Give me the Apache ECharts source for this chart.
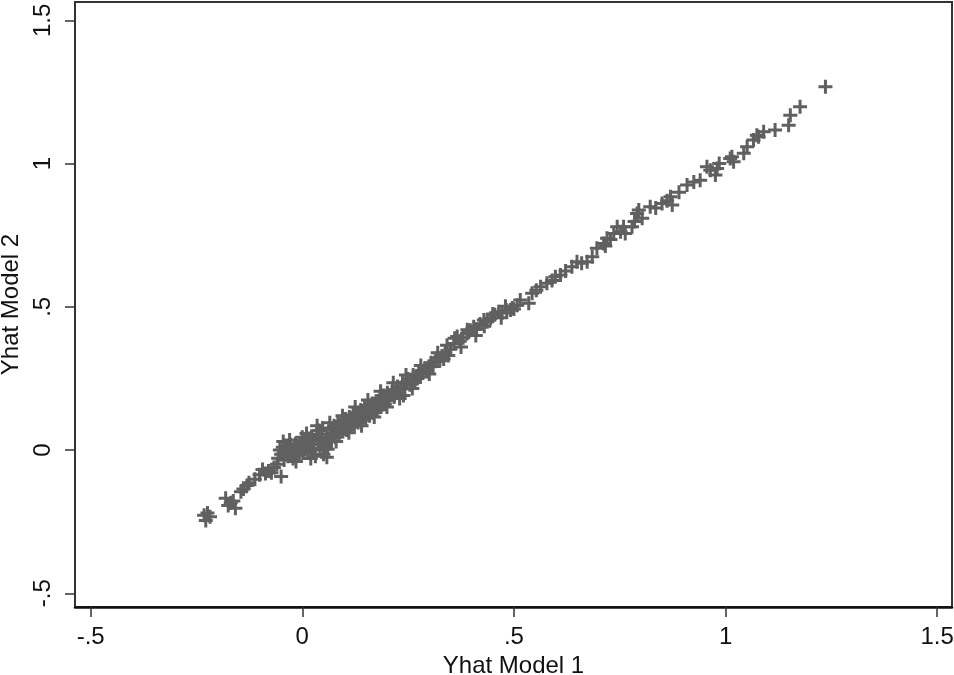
<!DOCTYPE html>
<html>
<head>
<meta charset="utf-8">
<script src="https://cdn.jsdelivr.net/npm/echarts@6/dist/echarts.min.js"></script>
<style>
html,body{margin:0;padding:0;background:#fff;}
#chart{width:954px;height:675px;}
</style>
</head>
<body>
<div id="chart"></div>
<script>
// Yhat Model 1 (x) and Yhat Model 2 (y)
var yhatModel1 = [
-0.232,-0.228,-0.224,-0.218,-0.181,-0.175,-0.169,-0.163,-0.158,-0.145,-0.139,-0.131,-0.126,
-0.112,-0.101,-0.094,-0.087,-0.080,-0.073,-0.067,-0.050,-0.060,
-0.057,-0.053,-0.050,-0.046,-0.043,-0.040,-0.037,-0.034,-0.031,-0.028,-0.025,-0.022,-0.019,-0.016,
-0.013,-0.010,-0.007,-0.005,-0.002,0.001,0.004,0.007,0.010,0.013,0.016,0.019,0.022,0.025,0.028,
0.031,0.034,0.037,0.040,0.042,0.045,0.048,0.051,0.054,0.057,0.060,0.063,0.066,0.069,0.072,0.075,
0.078,0.081,0.084,0.087,0.090,0.093,0.096,0.099,
-0.045,-0.030,-0.015,0.000,0.020,0.035,0.050,0.065,0.080,0.095,0.058,
0.102,0.105,0.108,0.111,0.114,0.117,0.120,0.123,0.126,0.129,0.132,0.135,0.138,0.141,0.144,0.147,
0.150,0.153,0.156,0.159,0.162,0.165,0.168,0.171,0.174,0.177,0.180,0.183,0.186,0.189,0.192,0.195,
0.198,0.201,0.205,0.209,0.213,0.217,0.221,0.225,0.229,0.233,0.237,0.239,0.242,0.246,0.250,0.254,
0.258,0.262,0.266,0.270,0.272,0.275,0.279,0.284,0.289,0.294,0.299,0.304,0.309,0.314,0.319,0.325,
0.330,0.334,0.338,
0.110,0.125,0.140,0.155,0.170,0.185,0.200,0.215,0.230,0.245,0.260,0.280,0.300,0.320,0.345,0.360,
0.375,0.390,0.410,0.430,0.450,0.470,0.480,
0.342,0.350,0.358,0.366,0.372,0.380,0.389,0.397,0.405,0.412,0.420,0.429,0.437,0.445,0.455,0.464,
0.472,0.483,0.492,0.496,0.500,0.508,0.515,0.535,0.543,0.553,0.563,0.578,0.590,0.598,0.610,0.622,
0.637,0.649,0.660,0.673,0.685,0.696,0.712,0.716,0.720,0.728,0.736,0.744,0.752,0.759,0.763,0.779,
0.785,0.791,0.795,0.803,
0.822,0.835,0.850,0.862,0.870,0.874,0.890,0.909,0.925,0.940,0.956,0.964,0.976,0.980,0.985,1.011,
1.015,1.019,1.043,1.051,1.066,1.074,1.078,1.090,1.117,1.149,1.153,1.176,1.236
];
var yhatModel2 = [
-0.228,-0.246,-0.220,-0.233,-0.168,-0.194,-0.184,-0.178,-0.203,-0.146,-0.136,-0.124,-0.114,
-0.102,-0.086,-0.068,-0.082,-0.073,-0.079,-0.061,-0.092,-0.050,
-0.029,0.000,-0.015,0.010,-0.035,-0.005,0.012,-0.022,0.002,0.018,-0.012,-0.030,0.008,0.022,
-0.006,0.014,-0.018,0.023,0.004,-0.010,0.030,0.012,0.058,-0.004,0.040,0.020,0.048,0.005,0.032,
-0.022,0.055,0.020,0.068,0.000,0.040,0.077,0.025,0.012,0.055,0.003,0.040,0.070,0.030,0.058,0.085,
0.045,0.068,0.092,0.055,0.078,0.100,0.065,0.088,
0.030,0.035,-0.040,0.045,-0.030,0.085,-0.015,0.095,0.030,0.120,-0.025,
0.108,0.070,0.092,0.115,0.080,0.100,0.122,0.088,0.108,0.130,0.096,0.116,0.140,0.104,0.124,0.148,
0.112,0.132,0.155,0.120,0.140,0.162,0.130,0.150,0.170,0.140,0.160,0.180,0.150,0.170,0.190,0.160,
0.180,0.200,0.172,0.192,0.210,0.185,0.205,0.222,0.198,0.218,0.235,0.190,0.215,0.232,0.248,0.228,
0.245,0.262,0.240,0.258,0.250,0.272,0.255,0.270,0.285,0.275,0.292,0.305,0.292,0.310,0.322,0.312,
0.328,0.318,0.340,
0.060,0.150,0.085,0.175,0.115,0.205,0.150,0.235,0.180,0.262,0.215,0.295,0.265,0.340,0.330,0.390,
0.360,0.420,0.400,0.432,0.475,0.462,0.502,
0.366,0.352,0.372,0.396,0.380,0.392,0.407,0.418,0.430,0.422,0.440,0.454,0.448,0.460,0.472,0.483,
0.478,0.488,0.489,0.496,0.492,0.505,0.524,0.512,0.547,0.558,0.570,0.582,0.592,0.605,0.611,0.625,
0.640,0.657,0.652,0.657,0.675,0.704,0.721,0.712,0.739,0.735,0.756,0.779,0.762,0.779,0.756,0.779,
0.798,0.826,0.838,0.809,
0.849,0.845,0.861,0.870,0.884,0.855,0.900,0.925,0.936,0.942,0.989,0.977,0.960,0.983,1.000,1.018,
1.024,1.006,1.036,1.059,1.082,1.099,1.094,1.111,1.117,1.134,1.169,1.198,1.268
];
var tickValues = [-0.5, 0, 0.5, 1, 1.5];
var tickLabels = ['-.5', '0', '.5', '1', '1.5'];
var xTitle = 'Yhat Model 1';
var yTitle = 'Yhat Model 2';

var points = [];
for (var i = 0; i < yhatModel1.length; i++) points.push([yhatModel1[i], yhatModel2[i]]);

function fmt(v) {
  for (var k = 0; k < tickValues.length; k++) if (Math.abs(tickValues[k] - v) < 1e-9) return tickLabels[k];
  return '';
}

var chart = echarts.init(document.getElementById('chart'), null, {renderer: 'canvas'});
var font = 'Liberation Sans, Arial, sans-serif';
chart.setOption({
  animation: false,
  backgroundColor: '#ffffff',
  grid: {left: 75, right: 2, top: 2, bottom: 68, show: true, borderColor: '#333', borderWidth: 2,
         backgroundColor: '#fff', containLabel: false, outerBoundsMode: 'none'},
  xAxis: {
    type: 'value', min: -0.537, max: 1.535,
    splitLine: {show: false},
    axisLine: {show: true, onZero: false, lineStyle: {color: '#111', width: 2.5}},
    axisTick: {show: true, length: 10, lineStyle: {color: '#333', width: 1.5}, customValues: tickValues},
    axisLabel: {customValues: tickValues, formatter: fmt, margin: 18, color: '#111', fontSize: 24, fontFamily: font},
    name: xTitle, nameLocation: 'middle', nameGap: 42,
    nameTextStyle: {color: '#111', fontSize: 24, fontFamily: font}
  },
  yAxis: {
    type: 'value', min: -0.548, max: 1.564,
    splitLine: {show: false},
    axisLine: {show: true, onZero: false, lineStyle: {color: '#333', width: 1.5}},
    axisTick: {show: true, length: 10, lineStyle: {color: '#333', width: 1.5}, customValues: tickValues},
    axisLabel: {customValues: tickValues, formatter: fmt, rotate: 90, margin: 20, color: '#111', fontSize: 24, fontFamily: font},
    name: yTitle, nameLocation: 'middle', nameGap: 47, nameRotate: 90,
    nameTextStyle: {color: '#111', fontSize: 24, fontFamily: font}
  },
  series: [{
    type: 'scatter',
    data: points,
    symbol: 'path://M5.5,0H8.5V5.5H14V8.5H8.5V14H5.5V8.5H0V5.5H5.5Z',
    symbolSize: 14,
    itemStyle: {color: '#606060', opacity: 1},
    emphasis: {disabled: true}
  }]
});
</script>
</body>
</html>
